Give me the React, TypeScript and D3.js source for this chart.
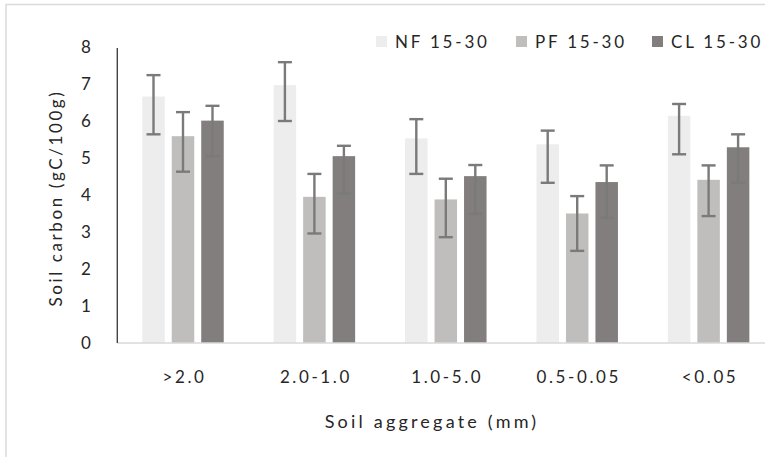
import React from "react";
import * as d3 from "d3";

const categories = [">2.0", "2.0-1.0", "1.0-5.0", "0.5-0.05", "<0.05"];
const series = ["NF 15-30", "PF 15-30", "CL 15-30"];
const nfValues = [6.66, 6.97, 5.53, 5.37, 6.14];
const pfValues = [5.59, 3.95, 3.88, 3.5, 4.41];
const clValues = [6.01, 5.05, 4.51, 4.35, 5.29];
const nfErrHigh = [7.24, 7.59, 6.05, 5.74, 6.46];
const nfErrLow = [5.64, 6.0, 4.57, 4.33, 5.1];
const pfErrHigh = [6.24, 4.57, 4.44, 3.97, 4.8];
const pfErrLow = [4.63, 2.96, 2.86, 2.49, 3.43];
const clErrHigh = [6.41, 5.33, 4.81, 4.8, 5.64];
const clErrLow = [5.05, 4.04, 3.49, 3.38, 4.33];
const yTicks = [0, 1, 2, 3, 4, 5, 6, 7, 8];
const yTitle = "Soil carbon (gC/100g)";
const xTitle = "Soil aggregate (mm)";

const colors = ["#ECEDEC", "#BFBEBD", "#827E7D"];
const values = [nfValues, pfValues, clValues];
const errHigh = [nfErrHigh, pfErrHigh, clErrHigh];
const errLow = [nfErrLow, pfErrLow, clErrLow];

export default function App() {
  const W = 765, H = 457;
  const axisX = 117.3;
  const x0 = d3.scaleBand<string>().domain(categories).range([axisX, axisX + 131.4 * 5]).paddingInner(0).paddingOuter(0);
  const x1 = d3.scaleBand<string>().domain(series).range([0, x0.bandwidth()]).paddingInner(0.237).paddingOuter(0.846);
  const y = d3.scaleLinear().domain([0, 8]).range([343, 47]);
  const font = "Lato, 'Open Sans', sans-serif";
  const legendX = [376, 516, 652];
  const textFill = "#262626";

  return (
    <svg width={W} height={H} style={{ position: "absolute", left: 0, top: 0, background: "#fff" }} fontFamily={font}>
      <rect x={6} y={4.5} width={W + 10} height={H} fill="#fff" stroke="#DADAD8" strokeWidth={1.5} />
      {/* bars */}
      {series.map((s, si) =>
        categories.map((c, ci) => {
          const bx = (x0(c) as number) + (x1(s) as number);
          const v = values[si][ci];
          return (
            <rect key={s + c} x={bx} y={y(v)} width={x1.bandwidth()} height={y(0) - y(v)} fill={colors[si]} />
          );
        })
      )}
      {/* error bars */}
      {series.map((s, si) =>
        categories.map((c, ci) => {
          const cx = (x0(c) as number) + (x1(s) as number) + x1.bandwidth() / 2;
          const hi = y(errHigh[si][ci]);
          const lo = y(errLow[si][ci]);
          return (
            <g key={"e" + s + c} stroke="#7A7A7A" strokeWidth={2.4}>
              <line x1={cx} x2={cx} y1={hi} y2={lo} />
              <line x1={cx - 7} x2={cx + 7} y1={hi} y2={hi} />
              <line x1={cx - 7} x2={cx + 7} y1={lo} y2={lo} />
            </g>
          );
        })
      )}
      {/* axes */}
      <line x1={axisX} x2={W} y1={y(0)} y2={y(0)} stroke="#D9D9D9" strokeWidth={1.5} />
      <line x1={axisX} x2={axisX} y1={y(8) + 1} y2={y(0)} stroke="#444" strokeWidth={1.4} />
      {yTicks.map((t) => (
        <text key={t} x={86} y={y(t)} dy="0.35em" textAnchor="middle" fontSize={17} fill={textFill}>
          {t}
        </text>
      ))}
      {categories.map((c) => (
        <text key={c} x={(x0(c) as number) + x0.bandwidth() / 2 + 1.5} y={377} dy="0.35em" textAnchor="middle" fontSize={17} letterSpacing={2.6} fill={textFill}>
          {c}
        </text>
      ))}
      <text x={432} y={422} dy="0.35em" textAnchor="middle" fontSize={18} letterSpacing={3.2} fill={textFill}>
        {xTitle}
      </text>
      <text transform={`translate(56,198) rotate(-90)`} dy="0.35em" textAnchor="middle" fontSize={17} letterSpacing={2.6} fill={textFill}>
        {yTitle}
      </text>
      {/* legend */}
      {series.map((s, si) => (
        <g key={"l" + s}>
          <rect x={legendX[si]} y={36} width={11} height={11} fill={colors[si]} />
          <text x={legendX[si] + 19} y={42} dy="0.35em" fontSize={17} letterSpacing={2.8} fill={textFill}>
            {s}
          </text>
        </g>
      ))}
    </svg>
  );
}
